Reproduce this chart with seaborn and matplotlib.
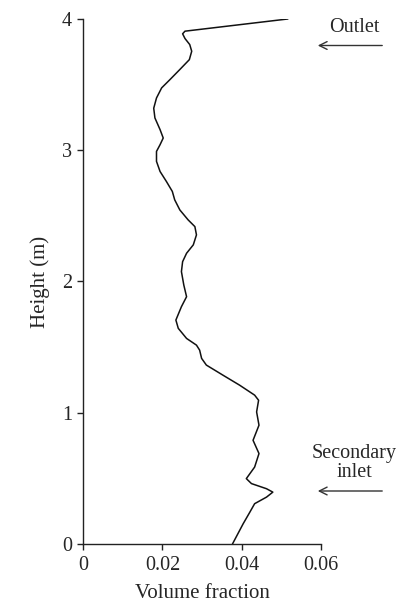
import matplotlib
matplotlib.use("Agg")
import matplotlib.pyplot as plt
import seaborn as sns
import pandas as pd

height = [4.00, 3.907, 3.887, 3.851, 3.805, 3.754, 3.69, 3.615, 3.538, 3.475, 3.398,
          3.32, 3.246, 3.157, 3.093, 3.042, 2.991, 2.915, 2.838, 2.762, 2.686,
          2.622, 2.545, 2.469, 2.418, 2.355, 2.279, 2.215, 2.151, 2.075, 1.973,
          1.884, 1.808, 1.706, 1.643, 1.566, 1.515, 1.477, 1.414, 1.363, 1.286,
          1.21, 1.134, 1.095, 1.006, 0.905, 0.79, 0.689, 0.586, 0.498, 0.46,
          0.421, 0.395, 0.357, 0.307, 0.243, 0.154, 0.0]
volume_fraction = [0.0517, 0.0257, 0.0251, 0.0257, 0.0269, 0.0274, 0.0268, 0.0244, 0.0219,
                   0.0198, 0.0185, 0.0178, 0.0181, 0.0194, 0.0202, 0.0194, 0.0185, 0.0185,
                   0.0194, 0.0210, 0.0225, 0.0231, 0.0244, 0.0265, 0.0282, 0.0286, 0.0278,
                   0.0261, 0.0251, 0.0248, 0.0254, 0.0261, 0.0248, 0.0234, 0.0240, 0.0261,
                   0.0286, 0.0294, 0.0299, 0.0311, 0.0353, 0.0395, 0.0433, 0.0443, 0.0438,
                   0.0444, 0.0429, 0.0444, 0.0433, 0.0412, 0.0425, 0.0463, 0.0479, 0.0463,
                   0.0433, 0.0421, 0.0404, 0.0377]

x_ticks = [0, 0.02, 0.04, 0.06]
x_tick_labels = ["0", "0.02", "0.04", "0.06"]
y_ticks = [0, 1, 2, 3, 4]

df = pd.DataFrame({"Volume fraction": volume_fraction, "Height (m)": height})

sns.set_style("ticks")
plt.rcParams["font.family"] = ["Liberation Serif", "DejaVu Serif"]

fig = plt.figure(figsize=(4.01, 6.08), dpi=100)
ax = fig.add_axes([0.2077, 0.1053, 0.5921, 0.8635])

sns.lineplot(data=df, x="Volume fraction", y="Height (m)", sort=False, estimator=None,
             color="#111111", linewidth=1.1, ax=ax)

ax.set_xlim(0, 0.06)
ax.set_ylim(0, 4)
ax.set_xticks(x_ticks)
ax.set_xticklabels(x_tick_labels)
ax.set_yticks(y_ticks)
sns.despine(ax=ax)
for s in ["left", "bottom"]:
    ax.spines[s].set_linewidth(1.0)
    ax.spines[s].set_color("#222222")
ax.tick_params(direction="out", length=4, width=1.0, color="#222222", labelsize=14.5,
               pad=4)
ax.tick_params(axis="x", pad=5)
ax.set_xlabel("Volume fraction", fontsize=15, labelpad=6)
ax.set_ylabel("Height (m)", fontsize=15, labelpad=9)

# annotations outside axes
ax.annotate("", xy=(315 / 401, 1 - 45.5 / 608), xytext=(385 / 401, 1 - 45.5 / 608),
            xycoords="figure fraction", textcoords="figure fraction",
            arrowprops=dict(arrowstyle="->", color="#333333", lw=1.0, mutation_scale=14))
fig.text(354 / 401, 1 - 28 / 608, "Outlet", ha="center", va="center", fontsize=14.5)

ax.annotate("", xy=(315 / 401, 1 - 491 / 608), xytext=(385 / 401, 1 - 491 / 608),
            xycoords="figure fraction", textcoords="figure fraction",
            arrowprops=dict(arrowstyle="->", color="#333333", lw=1.0, mutation_scale=14))
fig.text(354 / 401, 1 - 463 / 608, "Secondary\ninlet", ha="center", va="center",
         fontsize=14.5, linespacing=1.0)

fig.savefig("out.png", dpi=100)
